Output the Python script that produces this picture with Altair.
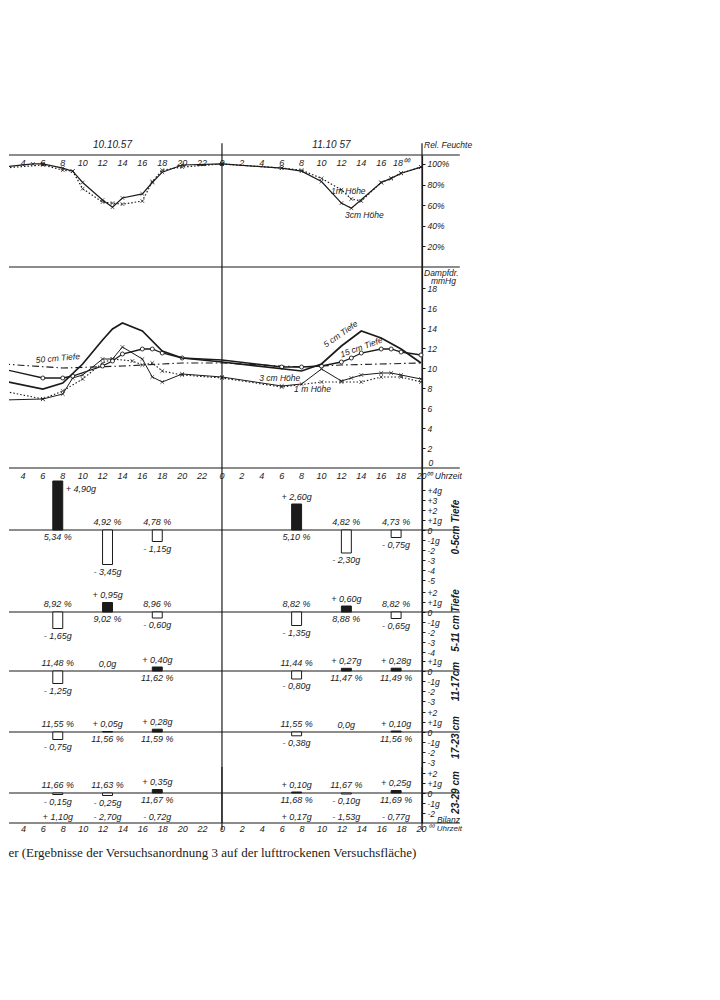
import altair as alt
import pandas as pd

INK = "#1b1b1b"
SANS = "Liberation Sans"
SERIF = "Liberation Serif"
X0, X1, XR = 2.6, 44.1, 47.9   # visible hour range (hours from 0 h on 10.10.57), frame extension
W = 413

# ---------------- tick labels ----------------
tick_hours = list(range(4, 44, 2))
top_tick_text = [str(h % 24) for h in tick_hours[:-1]] + ["18⁰⁰"]
mid_tick_text = [str(h % 24) for h in tick_hours]
date_text = ["10.10.57", "11.10 57"]
date_hours = [13.0, 35.0]

# ---------------- relative humidity (%) ----------------
hum_3cm_h = [2, 5, 6, 8, 9, 10, 12, 13, 14, 16, 17, 18, 20, 24, 30, 32, 34, 36, 37, 40, 41, 42, 44]
hum_3cm_v = [97, 100, 100, 96, 93, 82, 65, 58, 67, 71, 82, 92, 99, 100, 96, 93, 83, 62, 57, 82, 86, 91, 97]
hum_1m_h = [2, 6, 8, 9, 10, 12, 13, 14, 16, 17, 18, 20, 24, 30, 32, 34, 36, 37, 38, 40, 41, 42, 44]
hum_1m_v = [96, 99, 94, 93, 76, 63, 62, 61, 64, 83, 94, 97, 100, 96, 94, 86, 75, 66, 64, 82, 86, 91, 97]

# ---------------- vapour pressure (mm Hg) ----------------
vp_5cm_h = [2, 6, 8, 10, 12, 13, 14, 16, 18, 20, 24, 32, 34, 36, 38, 40, 42, 44]
vp_5cm_v = [8.7, 7.9, 8.5, 10.4, 12.8, 13.9, 14.5, 13.7, 11.7, 11.0, 10.6, 9.7, 10.4, 12.2, 13.7, 13.0, 11.9, 10.5]
vp_15cm_h = [2, 6, 8, 9, 12, 13, 14, 16, 17, 18, 20, 24, 30, 32, 34, 36, 37, 38, 40, 41, 42, 44]
vp_15cm_v = [9.9, 9.0, 9.0, 9.2, 10.2, 10.7, 11.4, 11.9, 11.9, 11.5, 11.0, 10.8, 10.1, 10.1, 10.2, 10.6, 11.0, 11.5, 11.9, 11.9, 11.6, 11.3]
vp_50cm_h = [2, 8, 14, 20, 24, 32, 36, 44]
vp_50cm_v = [10.4, 10.0, 10.2, 10.5, 10.5, 10.1, 10.3, 10.5]
vp_3cmH_h = [2, 6, 8, 9, 10, 12, 13, 14, 16, 17, 18, 20, 24, 30, 32, 34, 36, 37, 38, 40, 41, 42, 44]
vp_3cmH_v = [6.8, 6.9, 7.4, 9.0, 9.3, 10.9, 10.9, 12.1, 10.9, 9.1, 8.6, 9.4, 9.1, 8.2, 8.4, 9.9, 8.7, 9.0, 9.3, 9.5, 9.5, 9.3, 8.9]
vp_1m_h = [2, 6, 8, 10, 12, 13, 15, 16, 17, 18, 20, 24, 30, 34, 36, 38, 40, 42, 44]
vp_1m_v = [7.7, 6.9, 7.7, 8.9, 10.5, 10.9, 10.7, 10.3, 10.5, 9.7, 9.3, 9.0, 8.1, 8.6, 8.6, 8.6, 9.1, 9.1, 8.6]

# ---------------- soil water change (g) per layer ----------------
slot_hours = [7, 12, 17, 31, 36, 41]
layer_titles = ["0-5cm Tiefe", "5-11 cm Tiefe", "11-17cm", "17-23 cm", "23-29 cm"]
grams = [
    [4.90, -3.45, -1.15, 2.60, -2.30, -0.75],
    [-1.65, 0.95, -0.60, -1.35, 0.60, -0.65],
    [-1.25, 0.0, 0.40, -0.80, 0.27, 0.28],
    [-0.75, 0.05, 0.28, -0.38, 0.0, 0.10],
    [-0.15, -0.25, 0.35, 0.10, -0.10, 0.25],
]
pcts = [
    [5.34, 4.92, 4.78, 5.10, 4.82, 4.73],
    [8.92, 9.02, 8.96, 8.82, 8.88, 8.82],
    [11.48, None, 11.62, 11.44, 11.47, 11.49],
    [11.55, 11.56, 11.59, 11.55, None, 11.56],
    [11.66, 11.63, 11.67, 11.68, 11.67, 11.69],
]
bilanz = [1.10, -2.70, -0.72, 0.17, -1.53, -0.77]

# axis objects used by every layer of a panel (so that layers merge into one shared axis)
YAXES = {}
CUR = {"x": None}


def xq(field):
    return alt.X(f"{field}:Q", scale=alt.Scale(domain=[X0, X1], nice=False, zero=False), axis=CUR["x"])


def yq(field, dom):
    return alt.Y(f"{field}:Q", scale=alt.Scale(domain=dom, nice=False, zero=False),
                 axis=YAXES.get(tuple(dom)))


def raxis(values, expr, title=None, height=None):
    kw = dict(orient="right", values=values, labelExpr=expr, tickSize=3, labelPadding=2,
              domainColor=INK, tickColor=INK, labelColor=INK, labelFont=SANS,
              labelFontStyle="italic", labelFontSize=8.5, grid=False,
              labelOverlap=False, labelFlush=False, domainWidth=1.2)
    if title:
        kw.update(title=title, titleAngle=270, titleBaseline="middle", titleAlign="center",
                  titleX=33, titleY=height / 2, titleFont=SANS,
                  titleFontStyle="italic", titleFontWeight="bold", titleFontSize=10,
                  titleColor=INK)
    else:
        kw["title"] = ""
    return alt.Axis(**kw)


def hrules(vals, dom):
    df = pd.DataFrame({"a": [X0] * len(vals), "b": [XR] * len(vals), "v": vals})
    return alt.Chart(df).mark_rule(color=INK, strokeWidth=1.2).encode(
        x=xq("a"), x2="b:Q", y=yq("v", dom))


def vrules(dom, lo, hi):
    df = pd.DataFrame({"x": [24.0, X1], "lo": [lo, lo], "hi": [hi, hi]})
    return alt.Chart(df).mark_rule(color=INK, strokeWidth=1.2).encode(
        x=xq("x"), y=yq("lo", dom), y2="hi:Q")


def texts(hours, values, labels, dom, align="center", size=9, angle=0):
    df = pd.DataFrame({"h": hours, "v": values, "t": labels})
    kw = dict(font=SANS, fontStyle="italic", fontSize=size, color=INK, align=align, baseline="middle")
    if angle:
        kw["angle"] = angle
    return alt.Chart(df).mark_text(**kw).encode(x=xq("h"), y=yq("v", dom), text="t:N")


XMARK = "M-1,-1L1,1M-1,1L1,-1"


def series(hours, vals, dom, dash=None, width=1.1, marker=None):
    df = pd.DataFrame({"h": hours, "v": vals})
    kw = dict(color=INK, strokeWidth=width, clip=True)
    if dash:
        kw["strokeDash"] = dash
    out = [alt.Chart(df).mark_line(**kw).encode(x=xq("h"), y=yq("v", dom))]
    vis = df[df.h > X0]
    if marker == "x":
        out.append(alt.Chart(vis).mark_point(shape=XMARK, size=14, filled=False, color=INK,
                                             strokeWidth=1).encode(x=xq("h"), y=yq("v", dom)))
    elif marker == "o":
        out.append(alt.Chart(vis[vis.h != 24]).mark_point(shape="circle", size=16, filled=True,
                                                          fill="white", stroke=INK, strokeWidth=0.9,
                                                          opacity=1).encode(x=xq("h"), y=yq("v", dom)))
    return out


def fmt_g(v):
    if v == 0:
        return "0,0g"
    return ("+ " if v > 0 else "- ") + f"{abs(v):.2f}".replace(".", ",") + "g"


def fmt_p(p):
    return "" if p is None else f"{p:.2f}".replace(".", ",") + " %"


# ---------------- panel 1: relative humidity ----------------
d1 = [0, 108.7]
YAXES[tuple(d1)] = raxis([20, 40, 60, 80, 100], "datum.value + '%'")
p1 = alt.layer(
    hrules([0, 108.7], d1),
    vrules(d1, 0, 120),
    texts(tick_hours, [101] * len(tick_hours), top_tick_text, d1),
    texts(date_hours, [118.4, 118.4], date_text, d1, size=10),
    texts([44.3], [118.4], ["Rel. Feuchte"], d1, align="left", size=8.5),
    *series(hum_3cm_h, hum_3cm_v, d1, width=1.2, marker="x"),
    *series(hum_1m_h, hum_1m_v, d1, dash=[1.5, 2], width=1.2, marker="x"),
    texts([36.7], [73.8], ["1m Höhe"], d1, size=8.5),
    texts([38.3], [50.5], ["3cm Höhe"], d1, size=8.5),
).properties(width=W, height=112)

# ---------------- panel 2: vapour pressure ----------------
d2 = [0, 20.1]
YAXES[tuple(d2)] = raxis(list(range(2, 20, 2)), "'' + datum.value")
p2 = alt.layer(
    hrules([0], d2),
    vrules(d2, 0, 20.1),
    texts([44.3], [19.55], ["Dampfdr."], d2, align="left", size=8.5),
    texts([45.0], [18.75], ["mmHg"], d2, align="left", size=8.5),
    texts([44.75], [0.5], ["0"], d2, align="left", size=8.5),
    *series(vp_50cm_h, vp_50cm_v, d2, dash=[7, 3, 1.5, 3], width=1.1),
    *series(vp_1m_h, vp_1m_v, d2, dash=[1.5, 2], width=1.1, marker="x"),
    *series(vp_3cmH_h, vp_3cmH_v, d2, width=1.0, marker="x"),
    *series(vp_15cm_h, vp_15cm_v, d2, width=1.3, marker="o"),
    *series(vp_5cm_h, vp_5cm_v, d2, width=1.7),
    texts([7.5], [11.0], ["50 cm Tiefe"], d2, size=8.5, angle=355),
    texts([35.9], [13.4], ["5 cm Tiefe"], d2, size=8.5, angle=325),
    texts([38.0], [12.1], ["15 cm Tiefe"], d2, size=8.5, angle=340),
    texts([29.8], [9.0], ["3 cm Höhe"], d2, size=8.5),
    texts([33.1], [7.9], ["1 m Höhe"], d2, size=8.5),
).properties(width=W, height=201)


# ---------------- bar panels ----------------
def gl_expr(big):
    return ("datum.value == 0 ? '0' : (datum.value > 0 ? '+' : '-') + abs(datum.value) + "
            "((abs(datum.value) == 1 || datum.value == " + str(big) + ") ? 'g' : '')")


def bar_layers(k, dom):
    g = grams[k]
    df = pd.DataFrame({"h": slot_hours, "g": g})
    df["h2"] = df.h + 1
    df["hc"] = df.h + 0.5
    df["zero"] = 0.0
    df["gt"] = [fmt_g(v) for v in g]
    df["gy"] = [v + 0.75 if v >= 0 else v - 0.7 for v in g]
    df["pt"] = [fmt_p(p) for p in pcts[k]]
    df["py"] = [-0.7 if v > 0 else 0.8 for v in g]
    bars = alt.Chart(df[df.g != 0]).mark_rect(stroke=INK, strokeWidth=1).encode(
        x=xq("h"), x2="h2:Q", y=yq("zero", dom), y2="g:Q",
        fill=alt.condition("datum.g > 0", alt.value(INK), alt.value("white")))
    norm = df[df.g <= 4]
    bigdf = df[df.g > 4]
    out = [
        hrules([0], dom),
        vrules(dom, dom[0], dom[1]),
        bars,
        alt.Chart(norm).mark_text(font=SANS, fontStyle="italic", fontSize=9, color=INK,
                                  baseline="middle").encode(x=xq("hc"), y=yq("gy", dom), text="gt:N"),
        alt.Chart(df).mark_text(font=SANS, fontStyle="italic", fontSize=9, color=INK,
                                baseline="middle").encode(x=xq("hc"), y=yq("py", dom), text="pt:N"),
    ]
    if len(bigdf):
        out.append(alt.Chart(bigdf.assign(bx=bigdf.h2 + 0.3, by=bigdf.g - 0.8)).mark_text(
            font=SANS, fontStyle="italic", fontSize=9, color=INK, align="left", baseline="middle"
        ).encode(x=xq("bx"), y=yq("by", dom), text="gt:N"))
    return out


d3, h3 = [-5.5, 6.2], 117
YAXES[tuple(d3)] = raxis([4, 3, 2, 1, 0, -1, -2, -3, -4, -5], gl_expr(4), layer_titles[0], h3)
p3 = alt.layer(
    *bar_layers(0, d3),
    texts(tick_hours, [5.4] * len(tick_hours), mid_tick_text, d3),
    texts([43.6], [5.4], ["20⁰⁰ Uhrzeit"], d3, align="left", size=8.5),
).properties(width=W, height=h3)

d4, h4 = [-4.3, 2.7], 70
YAXES[tuple(d4)] = raxis([2, 1, 0, -1, -2, -3, -4], gl_expr(99), layer_titles[1], h4)
p4 = alt.layer(*bar_layers(1, d4)).properties(width=W, height=h4)

d5, h5 = [-3.6, 1.6], 52
YAXES[tuple(d5)] = raxis([1, 0, -1, -2, -3], gl_expr(99), layer_titles[2], h5)
p5 = alt.layer(*bar_layers(2, d5)).properties(width=W, height=h5)

d6, h6 = [-3.5, 2.5], 60
YAXES[tuple(d6)] = raxis([2, 1, 0, -1, -2, -3], gl_expr(99), layer_titles[3], h6)
p6 = alt.layer(*bar_layers(3, d6)).properties(width=W, height=h6)

d7, h7 = [-3.0, 2.6], 56
YAXES[tuple(d7)] = raxis([2, 1, 0, -1, -2], gl_expr(99), layer_titles[4], h7 - 6)
CUR["x"] = alt.Axis(orient="bottom", values=tick_hours + [44], labelExpr="'' + (datum.value % 24)",
                    domain=False, ticks=False, labelPadding=1, labelFont=SANS,
                    labelFontStyle="italic", labelFontSize=9, labelColor=INK, title="",
                    labelFlush=False, labelOverlap=False, grid=False)
p7 = alt.layer(
    *bar_layers(4, d7),
    hrules([-3.0], d7),
    vrules(d7, -3.7, 2.6),
    texts([s + 0.5 for s in slot_hours], [-2.4] * len(slot_hours), [fmt_g(b) for b in bilanz], d7),
    texts([45.6], [-2.7], ["Bilanz"], d7, align="left", size=8.5),
    texts([44.75], [-3.55], ["⁰⁰ Uhrzeit"], d7, align="left", size=8),
).properties(width=W, height=h7)

chart = alt.vconcat(p1, p2, p3, p4, p5, p6, p7, spacing=0, bounds="flush").resolve_scale(
    y="independent"
).properties(
    padding={"top": 132, "left": 0, "right": 10, "bottom": 10},
    background="white",
    title=alt.TitleParams(
        "er (Ergebnisse der Versuchsanordnung 3 auf der lufttrockenen Versuchsfläche)",
        orient="bottom", anchor="start", font=SERIF, fontSize=13, fontWeight="normal",
        color=INK, offset=14),
).configure_view(stroke=None)

chart.save("out.html", embed_options={"renderer": "svg", "actions": False})
